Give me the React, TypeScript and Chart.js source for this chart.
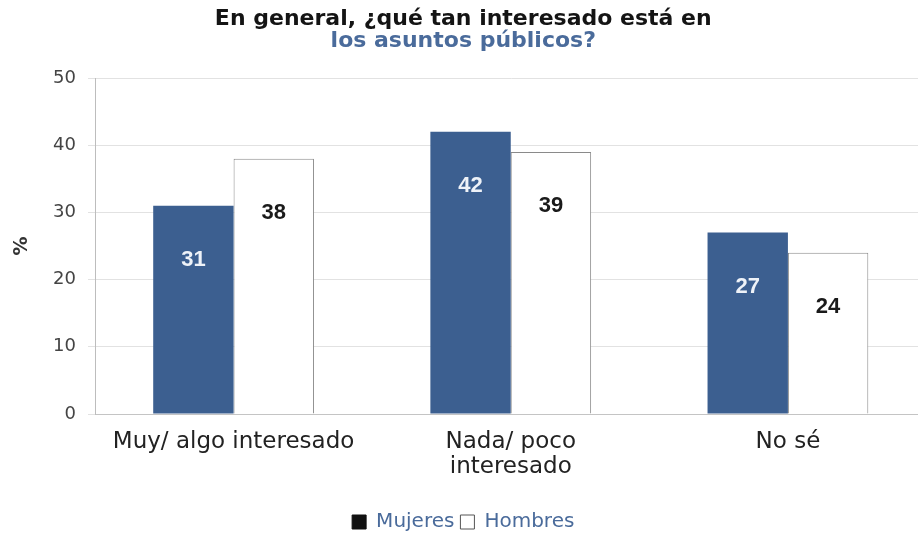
import React, { useEffect, useRef } from "react";
import { Chart, registerables } from "chart.js";

Chart.register(...registerables);

const categories: (string | string[])[] = ["Muy/ algo interesado", ["Nada/ poco", "interesado"], "No sé"];
const mujeres = [31, 42, 27];
const hombres = [38, 39, 24];
const seriesNames = ["Mujeres", "Hombres"];
const yMin = 0;
const yMax = 50;
const yStep = 10;
const titleLine1 = "En general, ¿qué tan interesado está en";
const titleLine2 = "los asuntos públicos?";
const yAxisTitle = "%";

const BLUE = "#3c5f90";
const CANVAS_H = 542;
const PLOT_BOTTOM = 414;

const barLabels = {
  id: "barLabels",
  afterDatasetsDraw(chart: any) {
    const ctx = chart.ctx;
    chart.data.datasets.forEach((ds: any, i: number) => {
      const meta = chart.getDatasetMeta(i);
      meta.data.forEach((el: any, j: number) => {
        ctx.save();
        ctx.font = 'bold 22px "Liberation Sans", Arial, sans-serif';
        ctx.fillStyle = i === 0 ? "#eef2f8" : "#1a1a1a";
        ctx.textAlign = "center";
        ctx.textBaseline = "middle";
        ctx.fillText(String(ds.data[j]), el.x, el.y + 54);
        ctx.restore();
      });
    });
  },
};

export default function App() {
  const ref = useRef<HTMLCanvasElement>(null);

  useEffect(() => {
    if (!ref.current) return;
    const chart = new Chart(ref.current, {
      type: "bar",
      data: {
        labels: categories,
        datasets: [
          {
            label: seriesNames[0],
            data: mujeres,
            backgroundColor: BLUE,
            borderWidth: 0,
            categoryPercentage: 0.58,
            barPercentage: 1,
          },
          {
            label: seriesNames[1],
            data: hombres,
            backgroundColor: "#ffffff",
            borderColor: "#8a8a8a",
            borderWidth: 1,
            borderSkipped: "bottom",
            categoryPercentage: 0.58,
            barPercentage: 1,
          },
        ],
      },
      options: {
        animation: false,
        responsive: true,
        maintainAspectRatio: false,
        layout: { padding: { top: 0, left: 0, right: 13.5, bottom: 0 } },
        plugins: {
          title: {
            display: true,
            text: titleLine1,
            color: "#141414",
            font: { family: '"DejaVu Sans", sans-serif', size: 22, weight: "bold", lineHeight: 1 },
            padding: { top: 8, bottom: 0 },
          },
          subtitle: {
            display: true,
            text: titleLine2,
            color: "#4a6b9b",
            font: { family: '"DejaVu Sans", sans-serif', size: 22, weight: "bold", lineHeight: 1 },
            padding: { top: 0, bottom: 26 },
          },
          legend: {
            display: true,
            position: "bottom",
            labels: {
              boxWidth: 14,
              boxHeight: 14,
              padding: 6,
              color: "#4a6b9b",
              font: { family: '"DejaVu Sans", sans-serif', size: 20 },
              generateLabels: () => [
                {
                  text: seriesNames[0],
                  fillStyle: "#111111",
                  strokeStyle: "#111111",
                  lineWidth: 1,
                  fontColor: "#4a6b9b",
                  datasetIndex: 0,
                  hidden: false,
                },
                {
                  text: seriesNames[1],
                  fillStyle: "#ffffff",
                  strokeStyle: "#555555",
                  lineWidth: 1,
                  fontColor: "#4a6b9b",
                  datasetIndex: 1,
                  hidden: false,
                },
              ],
            },
          },
          tooltip: { enabled: false },
        },
        scales: {
          x: {
            grid: { display: false },
            border: { display: true, color: "#c4c4c4" },
            ticks: {
              color: "#222222",
              padding: 8,
              maxRotation: 0,
              autoSkip: false,
              font: { family: '"DejaVu Sans", sans-serif', size: 23, lineHeight: 1.08 },
            },
            afterFit: (s: any) => {
              const lh = s.chart.legend ? s.chart.legend.height : 0;
              s.height = CANVAS_H - PLOT_BOTTOM - lh;
            },
          },
          y: {
            min: yMin,
            max: yMax,
            ticks: {
              stepSize: yStep,
              color: "#444444",
              padding: 12,
              font: { family: '"DejaVu Sans", sans-serif', size: 18 },
            },
            grid: { color: "#e2e2e2", tickLength: 7 },
            border: { display: true, color: "#bdbdbd" },
            title: {
              display: true,
              text: yAxisTitle,
              color: "#333333",
              font: { family: '"DejaVu Sans", sans-serif', size: 19, weight: "bold" },
              padding: { top: 11, bottom: 0 },
            },
            afterFit: (s: any) => {
              s.width = 95;
            },
          },
        },
      },
      plugins: [barLabels],
    } as any);
    return () => chart.destroy();
  }, []);

  return (
    <div
      style={{
        position: "fixed",
        left: 0,
        top: 0,
        width: 918,
        height: 533,
        overflow: "hidden",
        background: "#ffffff",
      }}
    >
      <div style={{ position: "relative", width: 940, height: CANVAS_H }}>
        <canvas ref={ref} />
      </div>
    </div>
  );
}
